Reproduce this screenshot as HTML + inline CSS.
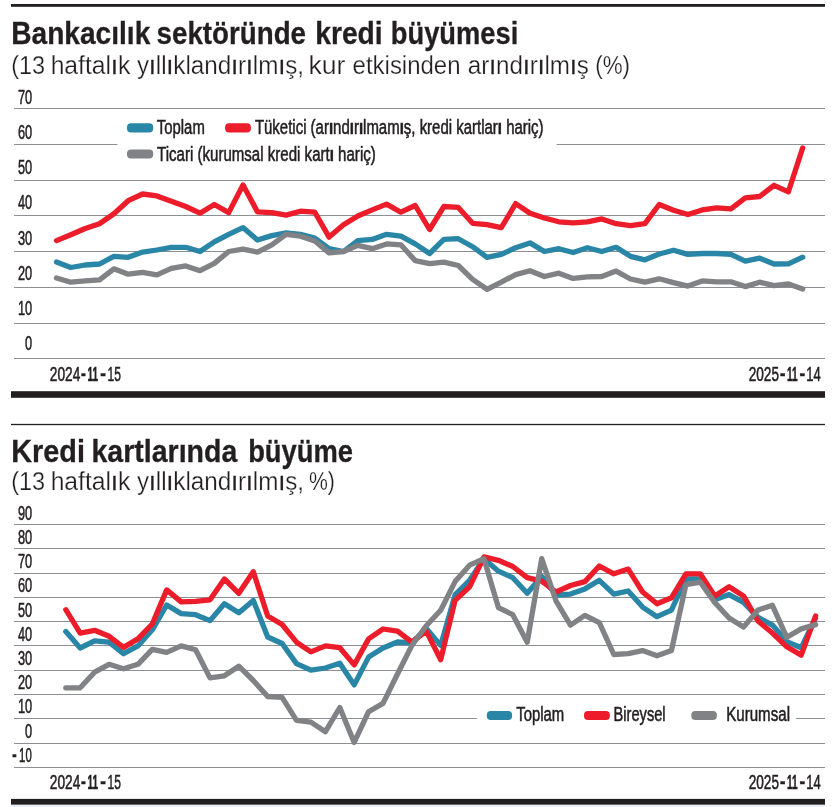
<!DOCTYPE html>
<html lang="tr"><head><meta charset="utf-8"><title>Kredi büyümesi</title>
<style>html,body{margin:0;padding:0;background:#fff}svg{display:block}text{font-family:"Liberation Sans",sans-serif;fill:#231f20}.t{font-weight:bold;font-size:31.4px;stroke:#231f20;stroke-width:.3px}.s{font-size:26.3px;stroke:#fff;stroke-width:.25px}.l{font-size:19.6px;stroke:#231f20;stroke-width:.55px}.b{font-weight:bold}.n{stroke:#231f20;stroke-width:.3px}</style></head><body><div style="will-change:transform;width:834px;height:807px">
<svg width="834" height="807" viewBox="0 0 834 807">
<rect width="834" height="807" fill="#fff"/>
<rect x="11" y="4" width="814" height="2.8" fill="#231f20"/>
<text y="44.1" class="t"><tspan x="11.27" textLength="139.04" lengthAdjust="spacingAndGlyphs">Bankacılık</tspan> <tspan x="156.58" textLength="149.44" lengthAdjust="spacingAndGlyphs">sektöründe</tspan> <tspan x="315.19" textLength="67.49" lengthAdjust="spacingAndGlyphs">kredi</tspan> <tspan x="390.84" textLength="127.41" lengthAdjust="spacingAndGlyphs">büyümesi</tspan></text>
<text y="73.8" class="s"><tspan x="11.17" textLength="33.93" lengthAdjust="spacingAndGlyphs">(13</tspan> <tspan x="50.63" textLength="79.68" lengthAdjust="spacingAndGlyphs">haftal<tspan class="n">ı</tspan>k</tspan> <tspan x="136.88" textLength="167.15" lengthAdjust="spacingAndGlyphs">y<tspan class="n">ı</tspan>ll<tspan class="n">ı</tspan>kland<tspan class="n">ı</tspan>r<tspan class="n">ı</tspan>lm<tspan class="n">ı</tspan>ş,</tspan> <tspan x="308.49" textLength="37.01" lengthAdjust="spacingAndGlyphs">kur</tspan> <tspan x="352.57" textLength="107.99" lengthAdjust="spacingAndGlyphs">etkisinden</tspan> <tspan x="467.68" textLength="121.17" lengthAdjust="spacingAndGlyphs">ar<tspan class="n">ı</tspan>nd<tspan class="n">ı</tspan>r<tspan class="n">ı</tspan>lm<tspan class="n">ı</tspan>ş</tspan> <tspan x="595.25" textLength="34.81" lengthAdjust="spacingAndGlyphs">(%)</tspan></text>
<path d="M14 108.5H825" stroke="#8d8f94" stroke-width="1.2" fill="none"/>
<text x="18.0" y="103.6" class="l" textLength="14.2" lengthAdjust="spacingAndGlyphs">70</text>
<path d="M14 144.5H117.5M556.6 144.5H825" stroke="#8d8f94" stroke-width="1.2" fill="none"/>
<text x="18.0" y="138.8" class="l" textLength="14.2" lengthAdjust="spacingAndGlyphs">60</text>
<path d="M14 180.5H825" stroke="#8d8f94" stroke-width="1.2" fill="none"/>
<text x="18.0" y="174.1" class="l" textLength="14.2" lengthAdjust="spacingAndGlyphs">50</text>
<path d="M14 215.5H825" stroke="#8d8f94" stroke-width="1.2" fill="none"/>
<text x="18.0" y="209.3" class="l" textLength="14.2" lengthAdjust="spacingAndGlyphs">40</text>
<path d="M14 251.5H825" stroke="#8d8f94" stroke-width="1.2" fill="none"/>
<text x="18.0" y="244.6" class="l" textLength="14.2" lengthAdjust="spacingAndGlyphs">30</text>
<path d="M14 287.5H825" stroke="#8d8f94" stroke-width="1.2" fill="none"/>
<text x="18.0" y="279.8" class="l" textLength="14.2" lengthAdjust="spacingAndGlyphs">20</text>
<path d="M14 323.5H825" stroke="#8d8f94" stroke-width="1.2" fill="none"/>
<text x="18.0" y="315.0" class="l" textLength="14.2" lengthAdjust="spacingAndGlyphs">10</text>
<path d="M14 358.5H825" stroke="#8d8f94" stroke-width="1.2" fill="none"/>
<text x="25.1" y="350.3" class="l" textLength="7.1" lengthAdjust="spacingAndGlyphs">0</text>
<polyline points="56.5,262.1 70.8,267.5 85.2,265.0 99.5,264.0 113.9,256.3 128.2,257.3 142.6,252.1 156.9,250.0 171.3,247.3 185.7,247.3 200.0,251.5 214.3,241.9 228.7,234.3 243.0,227.6 257.4,240.0 271.8,235.6 286.1,232.9 300.4,234.3 314.8,238.1 329.1,248.7 343.5,251.5 357.8,240.6 372.2,239.4 386.6,234.3 400.9,236.2 415.2,243.9 429.6,253.5 443.9,239.4 458.3,238.7 472.6,246.7 487.0,257.3 501.3,254.4 515.7,247.7 530.0,242.9 544.4,251.5 558.8,248.7 573.1,252.5 587.4,247.7 601.8,251.5 616.1,247.3 630.5,256.3 644.9,259.8 659.2,254.0 673.5,250.2 687.9,254.4 702.2,253.5 716.6,253.5 730.9,254.4 745.3,261.1 759.6,258.2 774.0,264.0 788.4,263.9 802.7,257.2" fill="none" stroke="#2a86a6" stroke-width="5.3" stroke-linecap="round" stroke-linejoin="round"/>
<polyline points="56.5,240.6 70.8,234.8 85.2,228.5 99.5,223.7 113.9,213.7 128.2,200.7 142.6,194.0 156.9,195.9 171.3,201.3 185.7,206.5 200.0,213.2 214.3,204.5 228.7,212.6 243.0,185.0 257.4,211.8 271.8,212.6 286.1,215.1 300.4,211.2 314.8,212.2 329.1,237.1 343.5,224.7 357.8,216.0 372.2,209.9 386.6,204.1 400.9,212.2 415.2,205.5 429.6,229.5 443.9,206.5 458.3,207.4 472.6,223.3 487.0,224.7 501.3,227.6 515.7,203.6 530.0,213.2 544.4,218.0 558.8,221.8 573.1,222.8 587.4,221.8 601.8,218.9 616.1,223.7 630.5,225.6 644.9,223.7 659.2,204.5 673.5,210.3 687.9,214.5 702.2,209.9 716.6,207.8 730.9,208.8 745.3,197.8 759.6,196.5 774.0,185.3 788.4,191.8 802.7,147.9" fill="none" stroke="#ec1c2a" stroke-width="5.3" stroke-linecap="round" stroke-linejoin="round"/>
<polyline points="56.5,278.0 70.8,282.2 85.2,280.9 99.5,279.9 113.9,268.8 128.2,274.2 142.6,272.3 156.9,274.9 171.3,268.4 185.7,265.9 200.0,270.7 214.3,263.4 228.7,251.5 243.0,249.2 257.4,252.1 271.8,244.8 286.1,234.3 300.4,236.2 314.8,241.0 329.1,252.9 343.5,251.5 357.8,245.4 372.2,248.7 386.6,243.9 400.9,244.8 415.2,260.6 429.6,263.6 443.9,262.1 458.3,265.5 472.6,279.4 487.0,289.3 501.3,282.2 515.7,274.6 530.0,270.7 544.4,276.5 558.8,273.2 573.1,278.4 587.4,276.9 601.8,276.5 616.1,271.1 630.5,279.0 644.9,282.2 659.2,278.8 673.5,282.6 687.9,286.1 702.2,280.9 716.6,281.8 730.9,281.8 745.3,286.6 759.6,282.2 774.0,285.7 788.4,284.0 802.7,289.0" fill="none" stroke="#808285" stroke-width="5.3" stroke-linecap="round" stroke-linejoin="round"/>
<rect x="127.0" y="123.2" width="26.2" height="9.2" rx="4" fill="#2a86a6"/>
<text x="156.8" y="133.6" class="l" textLength="48.0" lengthAdjust="spacingAndGlyphs">Toplam</text>
<rect x="225.1" y="123.2" width="25.8" height="9.2" rx="4" fill="#ec1c2a"/>
<text x="254.9" y="133.6" class="l" textLength="288.7" lengthAdjust="spacingAndGlyphs">Tüketici (ar<tspan class="b">ı</tspan>nd<tspan class="b">ı</tspan>r<tspan class="b">ı</tspan>lmam<tspan class="b">ı</tspan>ş, kredi kartlar<tspan class="b">ı</tspan> hariç)</text>
<rect x="127.0" y="149.4" width="26.2" height="9.2" rx="4" fill="#808285"/>
<text x="157.0" y="160.6" class="l" textLength="218.8" lengthAdjust="spacingAndGlyphs">Ticari (kurumsal kredi kart<tspan class="b">ı</tspan> hariç)</text>
<text y="380.8" class="l"><tspan x="49.84" textLength="30.48" lengthAdjust="spacingAndGlyphs" y="380.8">2024</tspan><tspan x="81.00" textLength="4.81" lengthAdjust="spacingAndGlyphs" class="b" y="379.7">-</tspan><tspan x="87.46" textLength="10.56" lengthAdjust="spacingAndGlyphs" class="b" y="380.8">11</tspan><tspan x="100.17" textLength="5.65" lengthAdjust="spacingAndGlyphs" class="b" y="379.7">-</tspan><tspan x="107.54" textLength="13.46" lengthAdjust="spacingAndGlyphs" y="380.8">15</tspan></text>
<text y="380.8" class="l"><tspan x="748.74" textLength="30.26" lengthAdjust="spacingAndGlyphs" y="380.8">2025</tspan><tspan x="780.00" textLength="5.39" lengthAdjust="spacingAndGlyphs" class="b" y="379.7">-</tspan><tspan x="787.03" textLength="10.66" lengthAdjust="spacingAndGlyphs" class="b" y="380.8">11</tspan><tspan x="799.43" textLength="5.65" lengthAdjust="spacingAndGlyphs" class="b" y="379.7">-</tspan><tspan x="806.17" textLength="14.50" lengthAdjust="spacingAndGlyphs" y="380.8">14</tspan></text>
<rect x="11" y="391.2" width="814" height="6.6" fill="#231f20"/>
<rect x="11" y="423.85" width="814" height="1.3" fill="#231f20"/>
<text y="461.9" class="t"><tspan x="11.17" textLength="73.75" lengthAdjust="spacingAndGlyphs">Kredi</tspan> <tspan x="91.48" textLength="145.83" lengthAdjust="spacingAndGlyphs">kartlarında</tspan> <tspan x="248.15" textLength="104.87" lengthAdjust="spacingAndGlyphs">büyüme</tspan></text>
<text y="490.1" class="s"><tspan x="11.17" textLength="33.93" lengthAdjust="spacingAndGlyphs">(13</tspan> <tspan x="50.63" textLength="79.68" lengthAdjust="spacingAndGlyphs">haftal<tspan class="n">ı</tspan>k</tspan> <tspan x="136.88" textLength="167.15" lengthAdjust="spacingAndGlyphs">y<tspan class="n">ı</tspan>ll<tspan class="n">ı</tspan>kland<tspan class="n">ı</tspan>r<tspan class="n">ı</tspan>lm<tspan class="n">ı</tspan>ş,</tspan> <tspan x="308.93" textLength="25.95" lengthAdjust="spacingAndGlyphs">%)</tspan></text>
<path d="M14 524.5H825" stroke="#8d8f94" stroke-width="1.2" fill="none"/>
<text x="18.0" y="519.7" class="l" textLength="14.2" lengthAdjust="spacingAndGlyphs">90</text>
<path d="M14 548.5H825" stroke="#8d8f94" stroke-width="1.2" fill="none"/>
<text x="18.0" y="543.9" class="l" textLength="14.2" lengthAdjust="spacingAndGlyphs">80</text>
<path d="M14 573.5H825" stroke="#8d8f94" stroke-width="1.2" fill="none"/>
<text x="18.0" y="568.1" class="l" textLength="14.2" lengthAdjust="spacingAndGlyphs">70</text>
<path d="M14 597.5H825" stroke="#8d8f94" stroke-width="1.2" fill="none"/>
<text x="18.0" y="592.3" class="l" textLength="14.2" lengthAdjust="spacingAndGlyphs">60</text>
<path d="M14 621.5H825" stroke="#8d8f94" stroke-width="1.2" fill="none"/>
<text x="18.0" y="616.5" class="l" textLength="14.2" lengthAdjust="spacingAndGlyphs">50</text>
<path d="M14 645.5H825" stroke="#8d8f94" stroke-width="1.2" fill="none"/>
<text x="18.0" y="640.7" class="l" textLength="14.2" lengthAdjust="spacingAndGlyphs">40</text>
<path d="M14 670.5H825" stroke="#8d8f94" stroke-width="1.2" fill="none"/>
<text x="18.0" y="664.9" class="l" textLength="14.2" lengthAdjust="spacingAndGlyphs">30</text>
<path d="M14 694.5H825" stroke="#8d8f94" stroke-width="1.2" fill="none"/>
<text x="18.0" y="689.1" class="l" textLength="14.2" lengthAdjust="spacingAndGlyphs">20</text>
<path d="M14 718.5H476.9M796 718.5H825" stroke="#8d8f94" stroke-width="1.2" fill="none"/>
<text x="18.0" y="713.3" class="l" textLength="14.2" lengthAdjust="spacingAndGlyphs">10</text>
<path d="M14 743.5H825" stroke="#8d8f94" stroke-width="1.2" fill="none"/>
<text x="25.1" y="737.5" class="l" textLength="7.1" lengthAdjust="spacingAndGlyphs">0</text>
<path d="M14 767.5H825" stroke="#8d8f94" stroke-width="1.2" fill="none"/>
<text y="761.7" class="l"><tspan x="12.30" textLength="4.37" lengthAdjust="spacingAndGlyphs" class="b" y="760.6">-</tspan><tspan x="19.10" textLength="12.62" lengthAdjust="spacingAndGlyphs" y="761.7">10</tspan></text>
<polyline points="65.8,631.6 80.2,648.0 94.6,640.9 109.1,642.2 123.5,653.7 137.9,645.9 152.3,629.8 166.7,605.0 181.2,613.6 195.6,614.7 210.0,620.6 224.4,603.7 238.8,612.8 253.3,600.4 267.7,637.0 282.1,643.5 296.5,663.6 310.9,670.1 325.4,668.0 339.8,663.3 354.2,684.9 368.6,657.1 383.0,648.0 397.5,642.0 411.9,642.8 426.3,628.4 440.7,645.4 455.1,594.6 469.6,580.3 484.0,558.7 498.4,571.2 512.8,577.7 527.2,593.3 541.7,576.4 556.1,595.2 570.5,594.1 584.9,588.9 599.3,580.3 613.8,594.1 628.2,591.0 642.6,607.1 657.0,616.7 671.4,610.2 685.9,579.0 700.3,579.0 714.7,599.8 729.1,594.6 743.5,602.4 758.0,617.3 772.4,625.1 786.8,641.6 801.2,647.7 815.6,618.2" fill="none" stroke="#2a86a6" stroke-width="5.3" stroke-linecap="round" stroke-linejoin="round"/>
<polyline points="65.8,609.7 80.2,633.1 94.6,630.3 109.1,636.3 123.5,647.4 137.9,638.9 152.3,624.0 166.7,589.9 181.2,601.9 195.6,601.4 210.0,599.8 224.4,579.0 238.8,593.3 253.3,571.7 267.7,616.0 282.1,624.5 296.5,642.2 310.9,651.9 325.4,645.9 339.8,647.7 354.2,664.9 368.6,638.9 383.0,629.0 397.5,631.1 411.9,642.2 426.3,631.1 440.7,659.7 455.1,600.4 469.6,586.8 484.0,556.9 498.4,560.3 512.8,566.5 527.2,577.7 541.7,581.1 556.1,592.0 570.5,585.5 584.9,581.6 599.3,566.0 613.8,573.8 628.2,569.1 642.6,592.0 657.0,603.7 671.4,597.8 685.9,573.8 700.3,573.8 714.7,595.9 729.1,586.8 743.5,595.9 758.0,621.0 772.4,633.0 786.8,646.8 801.2,655.1 815.6,615.9" fill="none" stroke="#ec1c2a" stroke-width="5.3" stroke-linecap="round" stroke-linejoin="round"/>
<polyline points="65.8,687.8 80.2,687.8 94.6,672.2 109.1,664.3 123.5,668.8 137.9,664.3 152.3,649.3 166.7,652.4 181.2,645.9 195.6,649.8 210.0,677.9 224.4,675.8 238.8,666.2 253.3,680.5 267.7,696.6 282.1,697.4 296.5,720.3 310.9,722.1 325.4,731.7 339.8,707.5 354.2,742.4 368.6,711.7 383.0,703.4 397.5,674.0 411.9,645.4 426.3,625.8 440.7,610.2 455.1,581.6 469.6,565.2 484.0,558.7 498.4,607.6 512.8,614.7 527.2,642.2 541.7,558.7 556.1,601.1 570.5,625.1 584.9,615.4 599.3,622.7 613.8,654.5 628.2,653.7 642.6,650.6 657.0,655.8 671.4,650.6 685.9,584.7 700.3,582.1 714.7,602.4 729.1,618.0 743.5,627.1 758.0,610.0 772.4,605.3 786.8,637.3 801.2,628.9 815.6,624.6" fill="none" stroke="#808285" stroke-width="5.3" stroke-linecap="round" stroke-linejoin="round"/>
<rect x="486.8" y="710.9" width="25.3" height="9.2" rx="4" fill="#2a86a6"/>
<text x="516.2" y="720.6" class="l" textLength="48.0" lengthAdjust="spacingAndGlyphs">Toplam</text>
<rect x="584.0" y="710.9" width="25.9" height="9.2" rx="4" fill="#ec1c2a"/>
<text x="613.6" y="720.6" class="l" textLength="52.0" lengthAdjust="spacingAndGlyphs">Bireysel</text>
<rect x="691.3" y="710.9" width="25.6" height="9.2" rx="4" fill="#808285"/>
<text x="726.2" y="720.6" class="l" textLength="63.8" lengthAdjust="spacingAndGlyphs">Kurumsal</text>
<text y="788.9" class="l"><tspan x="49.84" textLength="30.48" lengthAdjust="spacingAndGlyphs" y="788.9">2024</tspan><tspan x="81.00" textLength="4.81" lengthAdjust="spacingAndGlyphs" class="b" y="787.8">-</tspan><tspan x="87.46" textLength="10.56" lengthAdjust="spacingAndGlyphs" class="b" y="788.9">11</tspan><tspan x="100.17" textLength="5.65" lengthAdjust="spacingAndGlyphs" class="b" y="787.8">-</tspan><tspan x="107.54" textLength="13.46" lengthAdjust="spacingAndGlyphs" y="788.9">15</tspan></text>
<text y="788.9" class="l"><tspan x="748.74" textLength="30.26" lengthAdjust="spacingAndGlyphs" y="788.9">2025</tspan><tspan x="780.00" textLength="5.39" lengthAdjust="spacingAndGlyphs" class="b" y="787.8">-</tspan><tspan x="787.03" textLength="10.66" lengthAdjust="spacingAndGlyphs" class="b" y="788.9">11</tspan><tspan x="799.43" textLength="5.65" lengthAdjust="spacingAndGlyphs" class="b" y="787.8">-</tspan><tspan x="806.17" textLength="14.50" lengthAdjust="spacingAndGlyphs" y="788.9">14</tspan></text>
<rect x="11" y="798.9" width="814" height="5.9" fill="#231f20"/>
<rect x="11" y="804.8" width="814" height="2.2" fill="#e8f1f8"/>
</svg></div></body></html>
